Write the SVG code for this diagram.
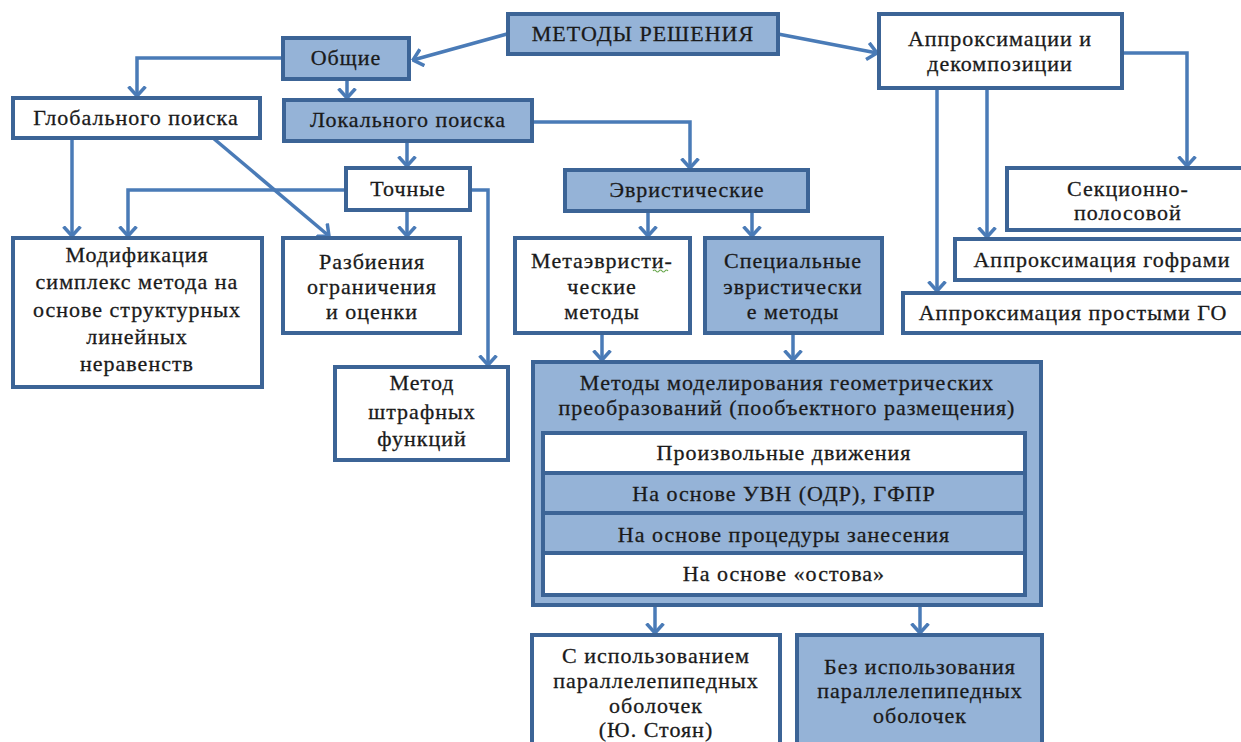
<svg xmlns="http://www.w3.org/2000/svg" width="1241" height="742" viewBox="0 0 1241 742">
<style>
.b{fill:#ffffff;stroke:#3c6496;stroke-width:4}
.f{fill:#95b3d7;stroke:#3c6496;stroke-width:4}
.c{fill:none;stroke:#4a7bb7;stroke-width:3.5;marker-end:url(#a)}
.t text{font-size:22px;fill:#1a1a1a;stroke:#1a1a1a;stroke-width:0.3px;text-anchor:middle;letter-spacing:1px}
</style>
<defs>
<marker id="a" viewBox="0 0 12 20" refX="10.5" refY="10" markerWidth="12" markerHeight="20" markerUnits="userSpaceOnUse" orient="auto">
<path d="M1,1.5 L10.5,10 L1,18.5" fill="none" stroke="#4a7bb7" stroke-width="3.5"/>
</marker>
</defs>
<rect width="1241" height="742" fill="#ffffff"/>
<g id="connectors">
<path class="c" d="M507,34 L413,60"/>
<path class="c" d="M778,34 L877,53"/>
<path class="c" d="M283,58 L137,58 L137,96"/>
<path class="c" d="M347,79 L347,98"/>
<path class="c" d="M407,141 L407,166"/>
<path class="c" d="M532,122 L690,122 L690,168"/>
<path class="c" d="M72,138 L72,236"/>
<path class="c" d="M213,138 L329,236"/>
<path class="c" d="M346,190 L128,190 L128,236"/>
<path class="c" d="M407,210 L407,236"/>
<path class="c" d="M470,190 L488,190 L488,365"/>
<path class="c" d="M648,211 L648,236"/>
<path class="c" d="M752,211 L752,236"/>
<path class="c" d="M602,333 L602,360"/>
<path class="c" d="M793,333 L793,360"/>
<path class="c" d="M655,605 L655,633"/>
<path class="c" d="M920,605 L920,633"/>
<path class="c" d="M1122,53 L1187,53 L1187,166"/>
<path class="c" d="M937,88 L937,291"/>
<path class="c" d="M987,88 L987,237"/>
</g>
<g class="t" font-family="'Liberation Serif', 'DejaVu Serif', serif">
<g id="n-root"><rect class="f" x="508" y="14" width="270" height="40"/><text x="643" y="41">МЕТОДЫ РЕШЕНИЯ</text></g>
<g id="n-general"><rect class="f" x="283" y="38" width="126" height="41"/><text x="346" y="65">Общие</text></g>
<g id="n-approx"><rect class="b" x="879" y="14" width="243" height="74"/><text x="1000" y="46">Аппроксимации и</text><text x="1000" y="71">декомпозиции</text></g>
<g id="n-global"><rect class="b" x="13" y="98" width="247" height="40"/><text x="136" y="125">Глобального поиска</text></g>
<g id="n-local"><rect class="f" x="284" y="100" width="248" height="41"/><text x="408" y="127">Локального поиска</text></g>
<g id="n-exact"><rect class="b" x="346" y="168" width="124" height="42"/><text x="408" y="196">Точные</text></g>
<g id="n-heur"><rect class="f" x="565" y="170" width="243" height="41"/><text x="687" y="197">Эвристические</text></g>
<g id="n-section"><rect class="b" x="1007" y="168" width="250" height="62"/><text x="1128" y="196">Секционно-</text><text x="1128" y="220">полосовой</text></g>
<g id="n-gofr"><rect class="b" x="955" y="239" width="300" height="41"/><text x="1102" y="267">Аппроксимация гофрами</text></g>
<g id="n-simple"><rect class="b" x="903" y="293" width="350" height="40"/><text x="1073" y="320">Аппроксимация простыми ГО</text></g>
<g id="n-simplex"><rect class="b" x="13" y="238" width="249" height="149"/><text x="137" y="262">Модификация</text><text x="137" y="289">симплекс метода на</text><text x="137" y="317">основе структурных</text><text x="137" y="344">линейных</text><text x="137" y="371">неравенств</text></g>
<g id="n-branch"><rect class="b" x="283" y="238" width="177" height="95"/><text x="372" y="269">Разбиения</text><text x="372" y="294">ограничения</text><text x="372" y="319">и оценки</text></g>
<g id="n-penalty"><rect class="b" x="335" y="367" width="173" height="93"/><text x="422" y="390">Метод</text><text x="422" y="419">штрафных</text><text x="422" y="446">функций</text></g>
<g id="n-meta"><rect class="b" x="515" y="238" width="175" height="95"/><text x="602" y="268">Метаэвристи-</text><text x="602" y="294">ческие</text><text x="602" y="319">методы</text><path d="M653,271 q1.5,-2 3,0 t3,0 t3,0 t3,0 t3,0" fill="none" stroke="#6aa84f" stroke-width="1.2"/></g>
<g id="n-special"><rect class="f" x="705" y="238" width="177" height="95"/><text x="793" y="268">Специальные</text><text x="793" y="294">эвристически</text><text x="793" y="319">е методы</text></g>
<g id="n-model"><rect class="f" x="533" y="362" width="508" height="243"/><text x="787" y="390">Методы моделирования геометрических</text><text x="787" y="415">преобразований (пообъектного размещения)</text>
<rect class="b" x="543" y="433" width="482" height="40" stroke-width="3.5"/><text x="784" y="460">Произвольные движения</text>
<rect class="f" x="543" y="473" width="482" height="40" stroke-width="3.5"/><text x="784" y="501">На основе УВН (ОДР), ГФПР</text>
<rect class="f" x="543" y="513" width="482" height="40" stroke-width="3.5"/><text x="784" y="542">На основе процедуры занесения</text>
<rect class="b" x="543" y="553" width="482" height="42" stroke-width="3.5"/><text x="784" y="581">На основе «остова»</text></g>
<g id="n-with"><rect class="b" x="532" y="635" width="248" height="120"/><text x="656" y="663">С использованием</text><text x="656" y="688">параллелепипедных</text><text x="656" y="713">оболочек</text><text x="656" y="737">(Ю. Стоян)</text></g>
<g id="n-without"><rect class="f" x="797" y="635" width="245" height="120"/><text x="920" y="674">Без использования</text><text x="920" y="698">параллелепипедных</text><text x="920" y="723">оболочек</text></g>
</g>
</svg>
